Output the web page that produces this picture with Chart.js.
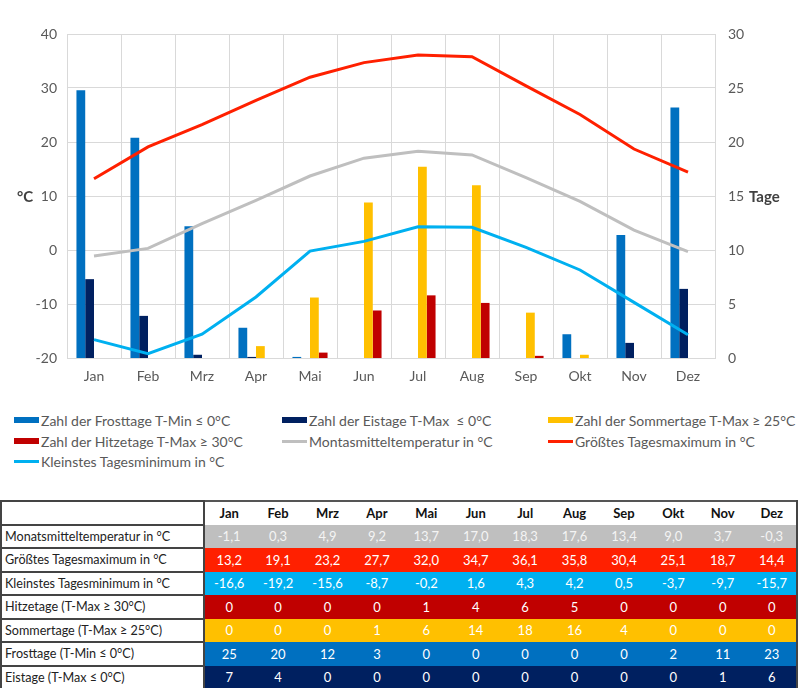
<!DOCTYPE html>
<html><head><meta charset="utf-8">
<script src="https://cdn.jsdelivr.net/npm/chart.js@4.4.1/dist/chart.umd.min.js"></script>
<style>
body{margin:0;background:#fff;font-family:Lato,"DejaVu Sans",sans-serif;width:800px;height:688px;overflow:hidden;position:relative}
#c{position:absolute;left:0;top:0}
.leg{position:absolute;font-size:14px;color:#595959;white-space:pre;display:flex;align-items:center;height:18px;transform:translateY(-9px)}
.leg i{display:inline-block;width:25px;margin-right:2px}
table{position:absolute;left:0;top:500px;border-collapse:collapse;table-layout:fixed;width:798px;font-size:13px}
td,th{height:21.5px;padding:0;text-align:center;overflow:hidden;white-space:nowrap}
th{background:#fff;color:#111;font-weight:bold;border-top:2px solid #555}
td.lab,th.lab{text-align:left;padding-left:3px;color:#222;background:#fff;border:2px solid #444;font-weight:normal;font-size:12.6px}
td{color:#fff}
tr td:last-child,tr th:last-child{border-right:2px solid #444}
tr:last-child td{border-bottom:2px solid #444}
</style></head>
<body>
<canvas id="c" width="800" height="395"></canvas>
<div id="legend"></div>
<table id="tbl"></table>
<script>
const months = ["Jan","Feb","Mrz","Apr","Mai","Jun","Jul","Aug","Sep","Okt","Nov","Dez"];
// temperatures (°C)
const mittel = [-1.1,0.3,4.9,9.2,13.7,17.0,18.3,17.6,13.4,9.0,3.7,-0.3];
const tmax   = [13.2,19.1,23.2,27.7,32.0,34.7,36.1,35.8,30.4,25.1,18.7,14.4];
const tmin   = [-16.6,-19.2,-15.6,-8.7,-0.2,1.6,4.3,4.2,0.5,-3.7,-9.7,-15.7];
// day counts as drawn (bars)
const frost  = [24.8,20.4,12.2,2.8,0.1,0,0,0,0,2.2,11.4,23.2];
const eis    = [7.3,3.9,0.3,0.1,0,0,0,0,0,0,1.4,6.4];
const sommer = [0,0,0,1.1,5.6,14.4,17.7,16.0,4.2,0.3,0,0];
const hitze  = [0,0,0,0,0.5,4.4,5.8,5.1,0.2,0,0,0];
// day counts as shown in the table
const tHitze  = [0,0,0,0,1,4,6,5,0,0,0,0];
const tSommer = [0,0,0,1,6,14,18,16,4,0,0,0];
const tFrost  = [25,20,12,3,0,0,0,0,0,2,11,23];
const tEis    = [7,4,0,0,0,0,0,0,0,0,1,6];
const leftTicks = [-20,-10,0,10,20,30,40];
const rightTicks = [0,5,10,15,20,25,30];

const C = {frost:"#0070C0", eis:"#002060", sommer:"#FFC000", hitze:"#C00000",
           mittel:"#BFBFBF", max:"#FF2000", min:"#00B0F0"};

const bar = (label,data,color)=>({type:"bar",label,data,backgroundColor:color,yAxisID:"y1",order:2,
  categoryPercentage:0.65,barPercentage:1.0,borderWidth:0});
const line = (label,data,color)=>({type:"line",label,data,borderColor:color,backgroundColor:color,yAxisID:"y",order:1,
  borderWidth:3,pointRadius:0,tension:0,fill:false});

const datasets = [
  bar("Zahl der Frosttage T-Min ≤ 0°C",frost,C.frost),
  bar("Zahl der Eistage T-Max  ≤ 0°C",eis,C.eis),
  bar("Zahl der Sommertage T-Max ≥ 25°C",sommer,C.sommer),
  bar("Zahl der Hitzetage T-Max ≥ 30°C",hitze,C.hitze),
  line("Montasmitteltemperatur in °C",mittel,C.mittel),
  line("Größtes Tagesmaximum in °C",tmax,C.max),
  line("Kleinstes Tagesminimum in °C",tmin,C.min)
];

const titles = {
  id:"titles",
  afterDraw(chart){
    const ctx=chart.ctx; ctx.save();
    ctx.font="bold 15px Lato, sans-serif"; ctx.fillStyle="#404040"; ctx.textBaseline="middle"; ctx.textAlign="left";
    ctx.fillText("°C",17,chart.scales.y.getPixelForValue(10)+1);
    ctx.fillText("Tage",749,chart.scales.y1.getPixelForValue(15)+1);
    ctx.restore();
  }
};

const tickFont={family:"Lato, sans-serif",size:14};
new Chart(document.getElementById("c"),{
  data:{labels:months,datasets},
  options:{
    responsive:false,animation:false,devicePixelRatio:1,
    layout:{padding:{top:34,left:0,right:0,bottom:0}},
    plugins:{legend:{display:false},tooltip:{enabled:false}},
    scales:{
      x:{offset:true,grid:{offset:true,color:"#d9d9d9",drawTicks:false},border:{color:"#d9d9d9"},
         ticks:{color:"#595959",font:tickFont,padding:10},
         afterFit(s){s.height=37;}},
      y:{position:"left",min:-20,max:40,afterBuildTicks(s){s.ticks=leftTicks.map(v=>({value:v}));},
         grid:{color:"#d9d9d9",drawTicks:false},border:{display:false},
         ticks:{color:"#595959",font:tickFont,padding:10},
         afterFit(s){s.width=67;}},
      y1:{position:"right",min:0,max:30,afterBuildTicks(s){s.ticks=rightTicks.map(v=>({value:v}));},
         grid:{display:false,drawTicks:false},border:{display:false},
         ticks:{color:"#595959",font:tickFont,padding:13},
         afterFit(s){s.width=85;}}
    }
  },
  plugins:[titles]
});

// legend
const legPos=[[14,420],[282,420],[548,420],[14,441],[282,441],[548,441],[14,461]];
const lg=document.getElementById("legend");
datasets.forEach((d,k)=>{
  const el=document.createElement("div"); el.className="leg";
  el.style.left=legPos[k][0]+"px"; el.style.top=legPos[k][1]+"px";
  const m=document.createElement("i");
  const col=d.type==="bar"?d.backgroundColor:d.borderColor;
  m.style.background=col; m.style.height=(d.type==="bar"?6:3)+"px";
  el.appendChild(m); const s=document.createElement("span"); s.textContent=d.label; el.appendChild(s);
  lg.appendChild(el);
});

// table
const fmt=v=>v.toFixed(1).replace(".",",");
const rows=[
  ["Monatsmitteltemperatur in °C",mittel.map(fmt),C.mittel,"#f4f4f4"],
  ["Größtes Tagesmaximum in °C",tmax.map(fmt),C.max,"#fff"],
  ["Kleinstes Tagesminimum in °C",tmin.map(fmt),C.min,"#fff"],
  ["Hitzetage (T-Max ≥ 30°C)",tHitze.map(String),C.hitze,"#fff"],
  ["Sommertage (T-Max ≥ 25°C)",tSommer.map(String),C.sommer,"#fff"],
  ["Frosttage (T-Min ≤ 0°C)",tFrost.map(String),C.frost,"#fff"],
  ["Eistage (T-Max ≤ 0°C)",tEis.map(String),C.eis,"#fff"]
];
const tbl=document.getElementById("tbl");
let html='<colgroup><col style="width:203px">'+months.map(()=>'<col>').join('')+'</colgroup>';
html+='<tr><th class="lab"></th>'+months.map(m=>'<th>'+m+'</th>').join('')+'</tr>';
rows.forEach(r=>{
  html+='<tr><td class="lab">'+r[0]+'</td>'+r[1].map(v=>'<td style="background:'+r[2]+';color:'+r[3]+'">'+v+'</td>').join('')+'</tr>';
});
tbl.innerHTML=html;
</script>
</body></html>
